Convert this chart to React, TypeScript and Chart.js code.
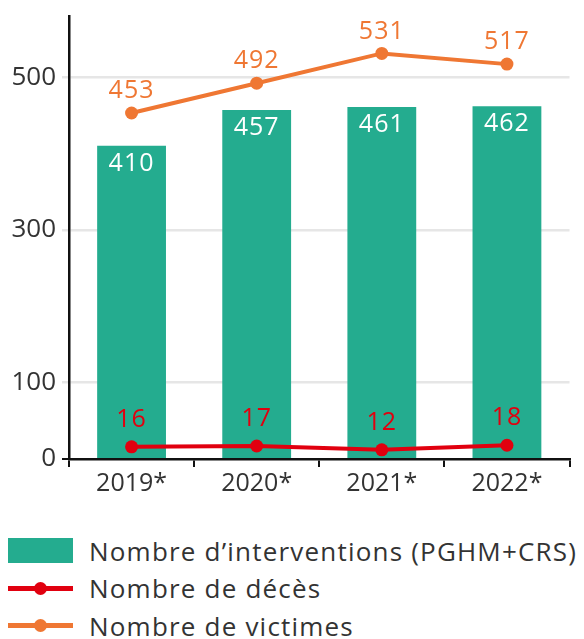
import React, { useEffect, useRef } from "react";
import { Chart, registerables } from "chart.js";

Chart.register(...registerables);

const categories = ["2019*", "2020*", "2021*", "2022*"];
const interventions = [410, 457, 461, 462];
const deces = [16, 17, 12, 18];
const victimes = [453, 492, 531, 517];
const yTicks = [0, 100, 300, 500];

const GREEN = "#24ac8f";
const RED = "#e1000f";
const ORANGE = "#ef7733";
const TEXT = "#333333";
const FONT = "'Open Sans', Lato, sans-serif";

const labelPlugin = {
  id: "valueLabels",
  afterDatasetsDraw(chart: any) {
    const ctx = chart.ctx;
    ctx.save();
    ctx.textAlign = "center";
    ctx.textBaseline = "middle";
    ctx.font = `25px ${FONT}`;
    try {
      (ctx as any).letterSpacing = "1px";
    } catch (e) {}
    chart.data.datasets.forEach((ds: any, i: number) => {
      const meta = chart.getDatasetMeta(i);
      meta.data.forEach((el: any, j: number) => {
        const v = ds.data[j];
        let y: number;
        if (ds.type === "bar") {
          ctx.fillStyle = "#ffffff";
          y = el.y + 18;
        } else if (ds.label === "Nombre de décès") {
          ctx.fillStyle = RED;
          y = el.y - 27;
        } else {
          ctx.fillStyle = ORANGE;
          y = el.y - 22;
        }
        ctx.fillText(String(v), el.x, y);
      });
    });
    ctx.restore();
  },
};

export default function App() {
  const ref = useRef<HTMLCanvasElement | null>(null);

  useEffect(() => {
    if (!ref.current) return;
    const chart = new Chart(ref.current, {
      type: "bar",
      data: {
        labels: categories,
        datasets: [
          {
            type: "bar",
            label: "Nombre d’interventions (PGHM+CRS)",
            data: interventions,
            backgroundColor: GREEN,
            barPercentage: 0.55,
            categoryPercentage: 1,
            order: 3,
          } as any,
          {
            type: "line",
            label: "Nombre de décès",
            data: deces,
            borderColor: RED,
            backgroundColor: RED,
            borderWidth: 4,
            pointRadius: 6.5,
            pointBackgroundColor: RED,
            pointBorderWidth: 0,
            order: 1,
          },
          {
            type: "line",
            label: "Nombre de victimes",
            data: victimes,
            borderColor: ORANGE,
            backgroundColor: ORANGE,
            borderWidth: 4,
            pointRadius: 6.5,
            pointBackgroundColor: ORANGE,
            pointBorderWidth: 0,
            order: 2,
          },
        ],
      },
      options: {
        animation: false,
        responsive: true,
        maintainAspectRatio: false,
        layout: { padding: { top: 8, right: 6, bottom: 7, left: 0 } },
        plugins: {
          legend: { display: false },
          tooltip: { enabled: false },
        },
        scales: {
          x: {
            offset: true,
            border: { color: "#111", width: 2.5 },
            grid: {
              display: true,
              offset: true,
              drawOnChartArea: false,
              tickLength: 8,
              color: "#111",
              lineWidth: 2,
            },
            ticks: {
              color: TEXT,
              font: { family: FONT, size: 25 },
              padding: 2,
            },
          },
          y: {
            min: 0,
            max: 580,
            border: { color: "#111", width: 2.5 },
            grid: {
              color: (c: any) => (c.tick && c.tick.value === 0 ? "#111" : "#e6e6e6"),
              lineWidth: (c: any) => (c.tick && c.tick.value === 0 ? 2 : 2.5),
              tickLength: 7,
            },
            ticks: {
              color: TEXT,
              font: { family: FONT, size: 26 },
              padding: 6,
            },
            afterBuildTicks: (scale: any) => {
              scale.ticks = yTicks.map((v) => ({ value: v }));
            },
            afterFit: (scale: any) => {
              scale.width = 61;
              scale.paddingTop = 0;
              scale.paddingBottom = 0;
            },
          },
        },
      },
      plugins: [labelPlugin],
    });
    return () => chart.destroy();
  }, []);

  const legendItems = [
    { label: "Nombre d’interventions (PGHM+CRS)", kind: "box", color: GREEN },
    { label: "Nombre de décès", kind: "line", color: RED },
    { label: "Nombre de victimes", kind: "line", color: ORANGE },
  ];

  return (
    <div style={{ fontFamily: FONT }}>
      <div style={{ position: "relative", width: 568, height: 500 }}>
        <canvas ref={ref} />
      </div>
      <div style={{ marginTop: 24 }}>
        {legendItems.map((it) => (
          <div
            key={it.label}
            style={{ display: "flex", alignItems: "center", height: 37.5 }}
          >
            <div style={{ width: 65, height: 25, position: "relative", flex: "none" }}>
              {it.kind === "box" ? (
                <div style={{ position: "absolute", inset: 0, background: it.color }} />
              ) : (
                <>
                  <div
                    style={{
                      position: "absolute",
                      left: 0,
                      right: 0,
                      top: 10,
                      height: 5,
                      background: it.color,
                    }}
                  />
                  <div
                    style={{
                      position: "absolute",
                      left: 26,
                      top: 6,
                      width: 13,
                      height: 13,
                      borderRadius: "50%",
                      background: it.color,
                    }}
                  />
                </>
              )}
            </div>
            <span
              style={{
                marginLeft: 16,
                fontSize: 26,
                color: TEXT,
                whiteSpace: "nowrap",
                letterSpacing: 1.2,
              }}
            >
              {it.label}
            </span>
          </div>
        ))}
      </div>
    </div>
  );
}
